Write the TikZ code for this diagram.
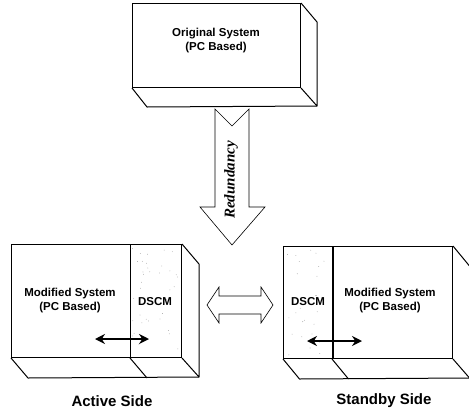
\documentclass[tikz,border=0pt]{standalone}
\usepackage{fontspec}
\setmainfont{Liberation Sans}
\newfontfamily\labelserif{Liberation Serif}
\usetikzlibrary{arrows.meta}
\begin{document}
\begin{tikzpicture}[x=1pt,y=-1pt,
  face/.style={draw=black, line width=1pt, fill=white, inner sep=0pt, anchor=north west},
  edge/.style={draw=black, line width=1pt, line join=round},
  lbl/.style={font=\bfseries\fontsize{11.5}{14}\selectfont, align=center, inner sep=0pt},
  sidelbl/.style={font=\bfseries\fontsize{15}{18}\selectfont, inner sep=0pt},
  link/.style={{Stealth[length=10pt,width=10pt]}-{Stealth[length=10pt,width=10pt]}, line width=2.3pt},
  bigarrow/.style={draw=black, line width=0.6pt, fill=white, line join=miter},
  speck/.style={fill=black!40}]
\useasboundingbox (0,0) rectangle (469,413);

% ---------- upper block: original system ----------
\node[face, minimum width=168pt, minimum height=84pt] (orig) at (132,3) {};
\draw[edge] (orig.north east) -- ++(16,19) coordinate (origSideTop)
            -- ++(0,84) coordinate (origBackCorner) -- (orig.south east);
\draw[edge] (orig.south west) -- ++(15,19) coordinate (origBackLeft) -- (origBackCorner);
\node[lbl] (origtxt) at (216,41) {Original System\\(PC Based)};

% ---------- redundancy arrow ----------
\coordinate (redTail) at (232,109);
\draw[bigarrow] (215,109) -- (232,126) -- (249,109) -- (249,207) -- (265,207)
                -- (232,245) coordinate (redTip) -- (200,207) -- (215,207) -- cycle;
\node[rotate=90, inner sep=0pt, font=\labelserif\bfseries\itshape\fontsize{15}{18}\selectfont]
     (redlbl) at (231,180) {Redundancy};

% ---------- lower left block: active side ----------
\node[face, minimum width=119pt, minimum height=113pt] (actMod) at (11,244) {};
\node[face, minimum width=51pt, minimum height=113pt] (actDscm) at (130,244) {};
\pgfmathsetseed{11}
\foreach \k in {1,...,40}{\fill[speck] ({132+47*rnd},{247+107*rnd}) circle (0.4pt);}
\draw[edge] (actDscm.north west) -- (actDscm.south west);
\draw[edge] (actDscm.north east) -- ++(17,20) -- ++(0,113) coordinate (actBackCorner)
            -- (actDscm.south east);
\draw[edge] (actMod.south west) -- ++(17,20) -- (actBackCorner);
\draw[edge] (actDscm.south west) -- ++(17,20);
\node[lbl] (actModTxt) at (70,301) {Modified System\\(PC Based)};
\node[lbl] (actDscmTxt) at (155,302) {DSCM};
\coordinate (actL) at (95,339);
\coordinate (actR) at (149,339);
\draw[link] (actL) -- (actR);
\node[sidelbl] (actLbl) at (112,401) {Active Side};

% ---------- lower right block: standby side ----------
\node[face, minimum width=49pt, minimum height=112pt] (stbDscm) at (283,246) {};
\node[face, minimum width=120pt, minimum height=112pt] (stbMod) at (332,246) {};
\pgfmathsetseed{5}
\foreach \k in {1,...,25}{\fill[speck] ({285+45*rnd},{249+106*rnd}) circle (0.4pt);}
\draw[edge] (stbDscm.north east) -- (stbDscm.south east);
\draw[edge] (stbMod.north east) -- ++(16.5,20) -- ++(0,112) coordinate (stbBackCorner)
            -- (stbMod.south east);
\draw[edge] (stbDscm.south west) -- ++(16.5,20) -- (stbBackCorner);
\draw[edge] (stbMod.south west) -- ++(16.5,20);
\node[lbl] (stbDscmTxt) at (308,302) {DSCM};
\node[lbl] (stbModTxt) at (390,301) {Modified System\\(PC Based)};
\coordinate (stbL) at (307,341);
\coordinate (stbR) at (362,341);
\draw[link] (stbL) -- (stbR);
\node[sidelbl] (stbLbl) at (384,401) {Standby Side};

% ---------- link between the two sides ----------
\coordinate (linkL) at (207,305);
\coordinate (linkR) at (273,305);
\draw[bigarrow] (linkL) -- (219,287) -- (219,296) -- (261,296) -- (261,287) -- (linkR)
                -- (261,323) -- (261,314) -- (219,314) -- (219,323) -- cycle;
\end{tikzpicture}
\end{document}
